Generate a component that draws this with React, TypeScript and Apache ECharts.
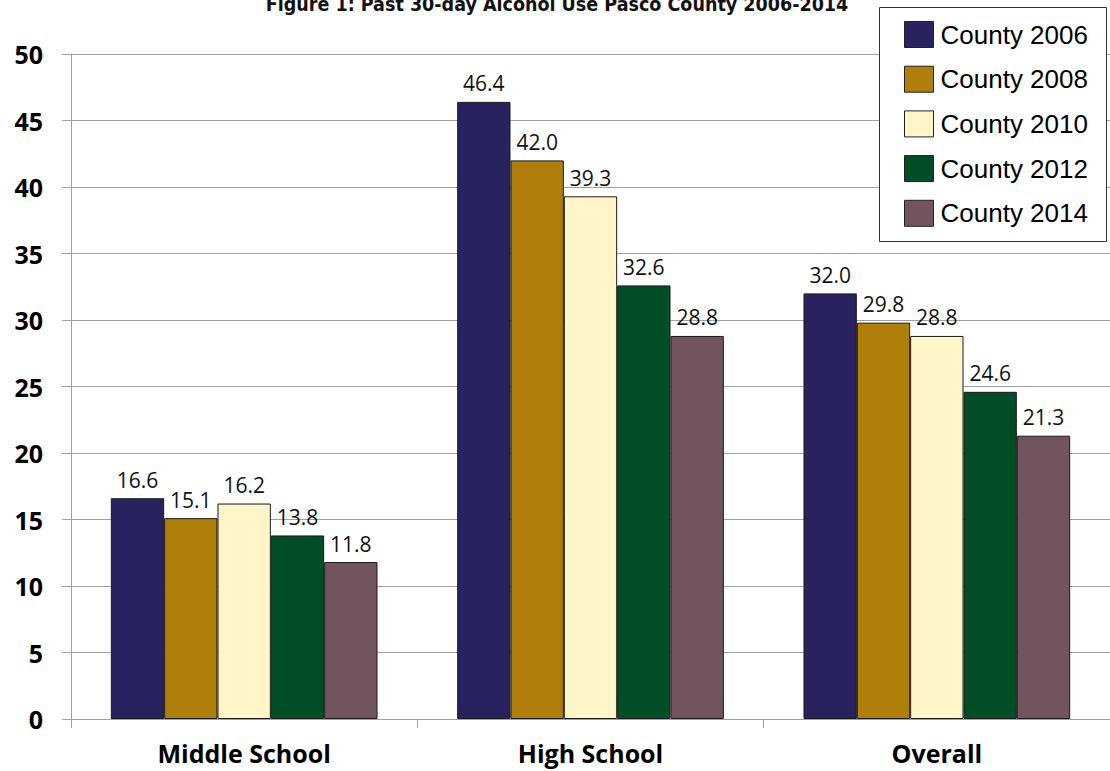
import React, { useEffect, useRef } from "react";
import * as echarts from "echarts";

const categories = ["Middle School", "High School", "Overall"];
const seriesNames = ["County 2006", "County 2008", "County 2010", "County 2012", "County 2014"];
const county2006 = [16.6, 46.4, 32.0];
const county2008 = [15.1, 42.0, 29.8];
const county2010 = [16.2, 39.3, 28.8];
const county2012 = [13.8, 32.6, 24.6];
const county2014 = [11.8, 28.8, 21.3];
const seriesValues = [county2006, county2008, county2010, county2012, county2014];
const colors = ["#28225F", "#B07E0B", "#FFF5C8", "#004D26", "#72555C"];
const titleText = "Figure 1: Past 30-day Alcohol Use Pasco County 2006-2014";

export default function App() {
  const ref = useRef<HTMLDivElement>(null);
  useEffect(() => {
    if (!ref.current) return;
    const chart = echarts.init(ref.current, null, { renderer: "svg" });
    chart.setOption({
      animation: false,
      backgroundColor: "#ffffff",
      grid: { left: 71, right: -7, top: 54, bottom: 52, containLabel: false },
      graphic: [
        {
          type: "text",
          x: 557,
          y: 14,
          z: 20,
          style: {
            text: titleText,
            fill: "#111",
            font: "bold 19.5px 'Liberation Sans Narrow', 'DejaVu Sans Condensed', sans-serif",
            textAlign: "center",
            textVerticalAlign: "bottom",
          },
        },
        {
          type: "rect",
          z: 5,
          shape: { x: 879.5, y: 7.5, width: 227, height: 234 },
          style: { fill: "#ffffff", stroke: "#333333", lineWidth: 1 },
        },
      ],
      legend: {
        show: true,
        orient: "vertical",
        left: 904,
        top: 21,
        padding: 0,
        z: 10,
        itemWidth: 29,
        itemHeight: 26,
        itemGap: 17.7,
        icon: "rect",
        itemStyle: { borderColor: "#222", borderWidth: 1 },
        textStyle: {
          fontSize: 26,
          fontFamily: "'Liberation Sans', Arial, sans-serif",
          color: "#000",
          padding: [0, 0, 0, 2],
        },
        data: seriesNames,
      },
      xAxis: {
        type: "category",
        data: categories,
        axisLine: { show: true, lineStyle: { color: "#A0A0A0", width: 1 } },
        axisTick: { show: true, length: 9, interval: 0, alignWithLabel: false, lineStyle: { color: "#A0A0A0" } },
        axisLabel: {
          fontSize: 25,
          lineHeight: 25,
          fontWeight: "bold",
          fontFamily: "'Open Sans', sans-serif",
          color: "#000",
          margin: 21,
        },
        splitLine: { show: false },
      },
      yAxis: {
        type: "value",
        min: 0,
        max: 50,
        interval: 5,
        axisLine: { show: true, lineStyle: { color: "#A0A0A0", width: 1 } },
        axisTick: { show: true, length: 9, lineStyle: { color: "#A0A0A0" } },
        axisLabel: {
          fontSize: 25,
          fontWeight: "bold",
          fontFamily: "'Open Sans', sans-serif",
          color: "#000",
          margin: 28,
        },
        splitLine: { show: true, lineStyle: { color: "#A0A0A0", width: 1 } },
      },
      series: seriesNames.map((name, i) => ({
        name,
        type: "bar",
        data: seriesValues[i],
        barGap: "0%",
        barCategoryGap: "23%",
        itemStyle: { color: colors[i], borderColor: "#1a1a1a", borderWidth: 1 },
        label: {
          show: true,
          position: "top",
          distance: 8,
          fontSize: 21,
          fontFamily: "'Open Sans', sans-serif",
          color: "#111",
          formatter: (p: any) => Number(p.value).toFixed(1),
        },
      })),
    });
    return () => chart.dispose();
  }, []);
  return (
    <div
      ref={ref}
      style={{ position: "fixed", left: 0, top: 0, width: 1110, height: 771, background: "#fff" }}
    />
  );
}
